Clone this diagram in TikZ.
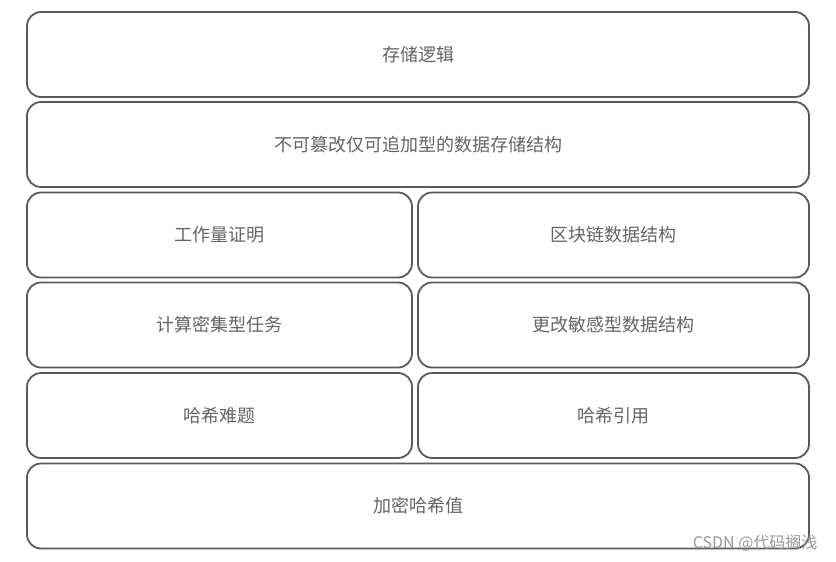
\documentclass[tikz,border=0pt]{standalone}
\usepackage{fontspec}
\newfontfamily\cjk{Noto Sans CJK SC}
\usepackage{tikz}
\definecolor{boxline}{RGB}{ 90, 90, 90 }
\definecolor{boxtext}{RGB}{ 100, 100, 100 }
\definecolor{marktext}{RGB}{ 150, 150, 150 }
\begin{document}
\begin{tikzpicture}[x=1pt,y=-1pt,font=\cjk\fontsize{18}{21}\selectfont]
\tikzstyle{layer}=[draw=boxline,line width=1.8pt,rounded corners=14pt,text=boxtext,inner sep=0,minimum height=85pt]
\tikzstyle{wide layer}=[layer,minimum width=782pt]
\tikzstyle{left layer}=[layer,minimum width=385pt]
\tikzstyle{right layer}=[layer,minimum width=391pt]

\useasboundingbox (0,0) rectangle (836,562);

% full rows
\node(logic)[wide layer] at (418,54.5) {存储逻辑};
\node(ledger)[wide layer] at (418,144.5) {不可篡改仅可追加型的数据存储结构};

% two columns
\node(pow)[left layer] at (219.5,235) {工作量证明};
\node(chain)[right layer] at (613.5,235) {区块链数据结构};
\node(compute)[left layer] at (219.5,325) {计算密集型任务};
\node(sensitive)[right layer] at (613.5,325) {更改敏感型数据结构};
\node(puzzle)[left layer] at (219.5,415.5) {哈希难题};
\node(pointer)[right layer] at (613.5,415.5) {哈希引用};

% bottom row
\node(hash)[wide layer] at (418,506) {加密哈希值};

% watermark
\node(mark)[anchor=east,text=marktext,font=\cjk\fontsize{16}{18}\selectfont] at (821,543) {CSDN @代码搁浅};
\end{tikzpicture}
\end{document}
